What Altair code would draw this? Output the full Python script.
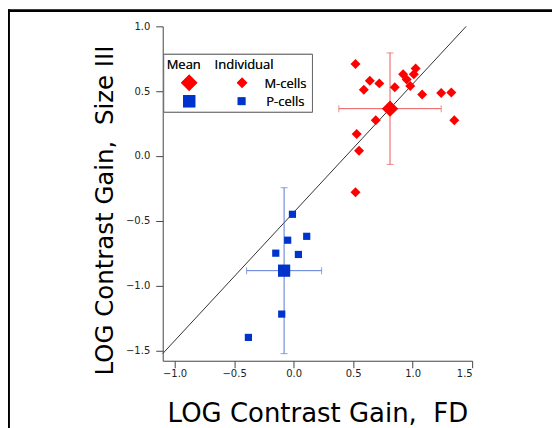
import altair as alt
import pandas as pd

# Individual cells
m_x = [0.52, 0.64, 0.59, 0.72, 0.85, 0.92, 0.95, 1.025, 1.01, 0.98, 1.08, 1.24, 1.325, 1.35, 0.69, 0.53, 0.55, 0.52]
m_y = [0.71, 0.58, 0.51, 0.56, 0.53, 0.63, 0.59, 0.675, 0.63, 0.54, 0.475, 0.485, 0.49, 0.275, 0.275, 0.17, 0.04, -0.28]
p_x = [-0.01, -0.05, 0.11, -0.15, 0.04, -0.10, -0.38]
p_y = [-0.45, -0.65, -0.62, -0.75, -0.76, -1.22, -1.40]

# Means with error bars
mean_group = ["M", "P"]
mean_x = [0.81, -0.08]
mean_y = [0.365, -0.885]
mean_xerr = [0.43, 0.315]
mean_yerr = [0.43, 0.64]

# Reference line ends
line_x = [-1.10, 1.45]
line_y = [-1.525, 1.0]

x_ticks = [-1.0, -0.5, 0.0, 0.5, 1.0, 1.5]
y_ticks = [-1.5, -1.0, -0.5, 0.0, 0.5, 1.0]

RED = "#ff0000"
RED_ERR = "#e8595c"
BLUE = "#0033cc"
BLUE_ERR = "#5b7bd6"
FONT = "DejaVu Sans"
LEG_FONT = "Open Sans"

ind = pd.DataFrame({
    "x": m_x + p_x,
    "y": m_y + p_y,
    "g": ["M"] * len(m_x) + ["P"] * len(p_x),
})
means = pd.DataFrame({"g": mean_group, "x": mean_x, "y": mean_y,
                      "xe": mean_xerr, "ye": mean_yerr})
line_df = pd.DataFrame({"x": line_x, "y": line_y})

xs = alt.Scale(domain=[-1.10, 1.5], nice=False, zero=False)
ys = alt.Scale(domain=[-1.58, 1.0], nice=False, zero=False)
xax = alt.Axis(values=x_ticks, format=".1f", title="LOG Contrast Gain,\u00a0 FD",
               titleBaseline="alphabetic", titleY=61, titleFontSize=26, labelPadding=1)
yax = alt.Axis(values=y_ticks, format=".1f", title="LOG Contrast Gain,\u00a0 Size III",
               titleBaseline="alphabetic", titleX=-50, titleY=184, titleFontSize=24.5,
               labelPadding=6)

X = alt.X("x:Q", scale=xs, axis=xax)
Y = alt.Y("y:Q", scale=ys, axis=yax)

gcolor = alt.Color("g:N", scale=alt.Scale(domain=["M", "P"], range=[RED, BLUE]), legend=None)
ecolor = alt.Color("g:N", scale=alt.Scale(domain=["M", "P"], range=[RED_ERR, BLUE_ERR]), legend=None)

diag = alt.Chart(line_df).mark_line(color="#333333", strokeWidth=1).encode(x=X, y=Y)

mb = alt.Chart(means).transform_calculate(
    x0="datum.x - datum.xe", x1="datum.x + datum.xe",
    y0="datum.y - datum.ye", y1="datum.y + datum.ye")

hbar = mb.mark_rule(strokeWidth=1).encode(
    x=alt.X("x0:Q", scale=xs, axis=xax), x2="x1:Q", y=Y, stroke=ecolor)
vbar = mb.mark_rule(strokeWidth=1).encode(
    x=X, y=alt.Y("y0:Q", scale=ys, axis=yax), y2="y1:Q", stroke=ecolor)
capL = mb.mark_tick(orient="vertical", size=7, thickness=1).encode(
    x=alt.X("x0:Q", scale=xs, axis=xax), y=Y, color=ecolor)
capR = mb.mark_tick(orient="vertical", size=7, thickness=1).encode(
    x=alt.X("x1:Q", scale=xs, axis=xax), y=Y, color=ecolor)
capB = mb.mark_tick(orient="horizontal", size=7, thickness=1).encode(
    x=X, y=alt.Y("y0:Q", scale=ys, axis=yax), color=ecolor)
capT = mb.mark_tick(orient="horizontal", size=7, thickness=1).encode(
    x=X, y=alt.Y("y1:Q", scale=ys, axis=yax), color=ecolor)

shape = alt.Shape("g:N", scale=alt.Scale(domain=["M", "P"], range=["diamond", "square"]), legend=None)
sz_ind = alt.Size("g:N", scale=alt.Scale(domain=["M", "P"], range=[100, 52]), legend=None)
sz_mean = alt.Size("g:N", scale=alt.Scale(domain=["M", "P"], range=[270, 150]), legend=None)

pts = alt.Chart(ind).mark_point(filled=True, opacity=1, strokeWidth=0).encode(
    x=X, y=Y, shape=shape, color=gcolor, size=sz_ind)
mpts = alt.Chart(means).mark_point(filled=True, opacity=1, strokeWidth=0).encode(
    x=X, y=Y, shape=shape, color=gcolor, size=sz_mean)

# Hand-drawn legend box (pixel positions inside the plot area)
leg_box = alt.Chart(line_df).mark_rect(fill="white", stroke="#666666", strokeWidth=1).encode(
    x=alt.value(1), x2=alt.value(150), y=alt.value(28), y2=alt.value(86))
def ltext(txt, x, y, align="left"):
    return alt.Chart(line_df).mark_text(text=txt, font=LEG_FONT, fontSize=13, fontWeight="normal",
                                        align=align, baseline="alphabetic", color="#111111").encode(
        x=alt.value(x), y=alt.value(y))
def lsym(shape_name, color, size, x, y):
    return alt.Chart(line_df).mark_point(shape=shape_name, filled=True, opacity=1, strokeWidth=0,
                                         color=color, size=size).encode(
        x=alt.value(x), y=alt.value(y))

legend = [
    leg_box,
    ltext("Mean", 4, 43),
    ltext("Individual", 52, 43),
    ltext("M-cells", 144, 62, "right"),
    ltext("P-cells", 142, 80, "right"),
    lsym("diamond", RED, 270, 26.5, 56.5),
    lsym("square", BLUE, 150, 26.5, 75),
    lsym("diamond", RED, 110, 79.5, 56.5),
    lsym("square", BLUE, 60, 79, 75),
]

# Picture frame (left and top edges)
frame_l = alt.Chart(line_df).mark_rule(color="black", strokeWidth=2.5).encode(
    x=alt.value(-154.5), y=alt.value(-17), y2=alt.value(460))
frame_t = alt.Chart(line_df).mark_rule(color="black", strokeWidth=2.5).encode(
    x=alt.value(-156), x2=alt.value(420), y=alt.value(-15.7))

chart = alt.layer(
    diag, hbar, vbar, capL, capR, capB, capT, pts, mpts, *legend, frame_l, frame_t
).resolve_scale(color="independent", size="independent").properties(
    width=310, height=335,
    background="white",
    autosize=alt.AutoSizeParams(type="none"),
    padding={"left": 155, "top": 18, "right": 80, "bottom": 70},
).configure_view(stroke=None).configure_axis(
    grid=False, domainColor="#444444", tickColor="#444444", tickSize=7,
    labelColor="#222222", labelFont=FONT, labelFontSize=10,
    titleFont=FONT, titleFontWeight="normal", titleColor="black",
)

chart.save("out.html", embed_options={"renderer": "svg", "actions": False})
